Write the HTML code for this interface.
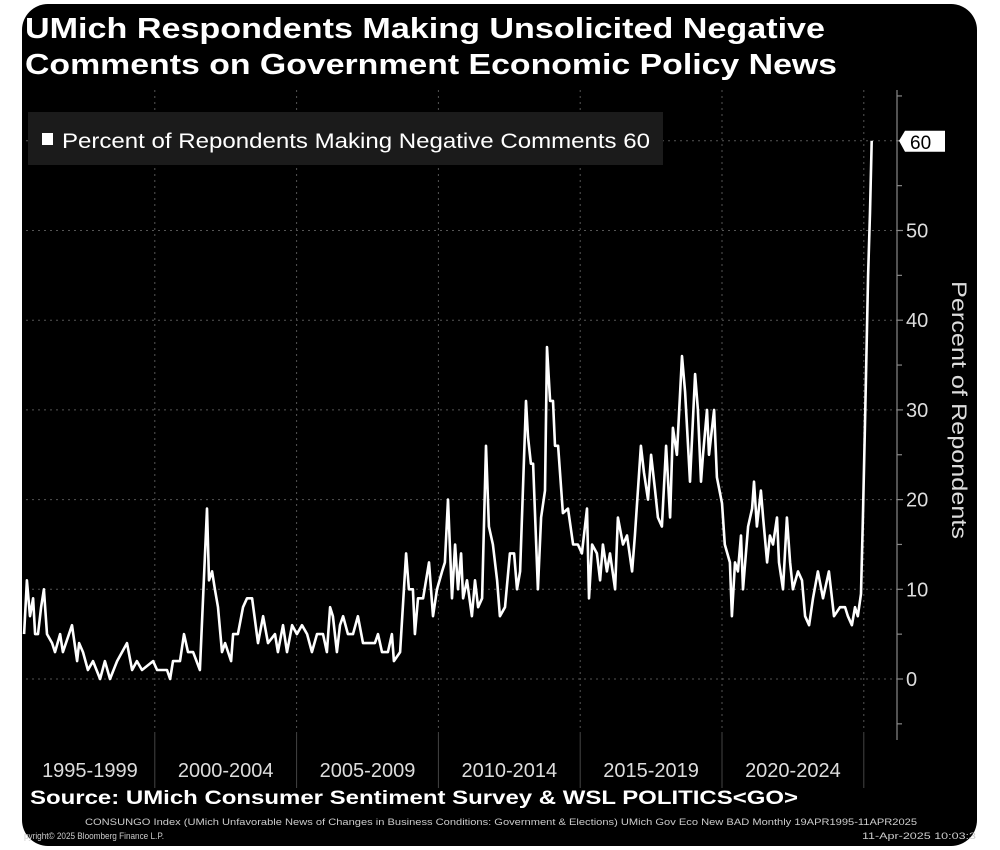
<!DOCTYPE html>
<html><head><meta charset="utf-8"><style>
html,body{margin:0;padding:0;background:#fff;width:1000px;height:850px;overflow:hidden}
svg{display:block}
text{font-family:"Liberation Sans",sans-serif}
</style></head><body>
<svg id="chart" width="1000" height="850" viewBox="0 0 1000 850">
<rect x="22" y="4" width="955" height="842" rx="26" fill="#000"/>
<text x="25" y="38" fill="#fff" font-size="29" font-weight="bold" textLength="800" lengthAdjust="spacingAndGlyphs">UMich Respondents Making Unsolicited Negative</text>
<text x="25" y="74" fill="#fff" font-size="29" font-weight="bold" textLength="812" lengthAdjust="spacingAndGlyphs">Comments on Government Economic Policy News</text>
<g id="grid"></g>
<g id="xband"></g>
<g id="yaxis"></g>
<path id="series" fill="none" stroke="#fff" stroke-width="2.6" stroke-linejoin="round"/>
<rect x="28" y="112" width="635" height="53" fill="#1b1b1b"/>
<rect x="42" y="133" width="11" height="12" fill="#fff"/>
<text x="62" y="148" fill="#fff" font-size="21" textLength="588" lengthAdjust="spacingAndGlyphs">Percent of Repondents Making Negative Comments 60</text>
<g id="lastlabel"></g>
<text transform="translate(952,410) rotate(90)" text-anchor="middle" fill="#ddd" font-size="21" textLength="258" lengthAdjust="spacingAndGlyphs">Percent of Repondents</text>
<text x="30" y="804" fill="#fff" font-size="19" font-weight="bold" textLength="768" lengthAdjust="spacingAndGlyphs">Source: UMich Consumer Sentiment Survey &amp; WSL POLITICS&lt;GO&gt;</text>
<text x="85" y="825" fill="#ccc" font-size="9.5" textLength="832" lengthAdjust="spacingAndGlyphs">CONSUNGO Index (UMich Unfavorable News of Changes in Business Conditions: Government &amp; Elections) UMich Gov Eco New BAD  Monthly 19APR1995-11APR2025</text>
<text x="24" y="839" fill="#ccc" font-size="9.5" textLength="140" lengthAdjust="spacingAndGlyphs">pyright© 2025 Bloomberg Finance L.P.</text>
<text x="862" y="839" fill="#ccc" font-size="9.5" textLength="114" lengthAdjust="spacingAndGlyphs">11-Apr-2025 10:03:3</text>
</svg>
<script>
const years=[1995.39,1995.49,1995.60,1995.71,1995.78,1995.88,1995.99,1996.09,1996.20,1996.38,1996.48,1996.66,1996.76,1997.08,1997.26,1997.33,1997.47,1997.64,1997.82,1998.07,1998.24,1998.42,1998.67,1999.02,1999.20,1999.37,1999.55,1999.94,2000.08,2000.43,2000.54,2000.64,2000.89,2001.03,2001.17,2001.35,2001.59,2001.84,2001.91,2002.02,2002.12,2002.23,2002.37,2002.48,2002.69,2002.76,2002.93,2003.11,2003.25,2003.43,2003.64,2003.82,2003.99,2004.24,2004.34,2004.52,2004.66,2004.84,2005.01,2005.19,2005.37,2005.54,2005.72,2005.93,2006.07,2006.18,2006.28,2006.42,2006.53,2006.64,2006.81,2006.99,2007.16,2007.34,2007.76,2007.87,2008.01,2008.22,2008.36,2008.43,2008.65,2008.86,2008.96,2009.10,2009.17,2009.28,2009.46,2009.67,2009.81,2009.95,2010.13,2010.23,2010.34,2010.48,2010.59,2010.69,2010.80,2010.87,2011.01,2011.18,2011.29,2011.40,2011.54,2011.68,2011.78,2011.92,2012.07,2012.17,2012.35,2012.52,2012.67,2012.77,2012.88,2013.09,2013.16,2013.26,2013.34,2013.51,2013.62,2013.76,2013.83,2013.94,2014.04,2014.11,2014.22,2014.39,2014.57,2014.75,2014.92,2015.06,2015.24,2015.31,2015.42,2015.59,2015.70,2015.80,2015.94,2016.05,2016.23,2016.33,2016.51,2016.65,2016.83,2016.93,2017.14,2017.25,2017.39,2017.50,2017.64,2017.74,2017.88,2018.03,2018.17,2018.27,2018.41,2018.59,2018.70,2018.87,2019.05,2019.15,2019.26,2019.33,2019.47,2019.54,2019.72,2019.82,2020.00,2020.10,2020.28,2020.35,2020.46,2020.56,2020.67,2020.74,2020.92,2021.06,2021.13,2021.23,2021.37,2021.45,2021.59,2021.69,2021.80,2021.94,2022.01,2022.15,2022.29,2022.40,2022.50,2022.68,2022.82,2022.93,2023.07,2023.21,2023.38,2023.56,2023.77,2023.95,2024.16,2024.34,2024.44,2024.58,2024.69,2024.79,2024.90,2024.97,2025.04,2025.15,2025.22,2025.28];
const values=[5,11,7,9,5,5,8,10,5,4,3,5,3,6,2,4,3,1,2,0,2,0,2,4,1,2,1,2,1,1,0,2,2,5,3,3,1,19,11,12,10,8,3,4,2,5,5,8,9,9,4,7,4,5,3,6,3,6,5,6,5,3,5,5,3,8,7,3,6,7,5,5,7,4,4,5,3,3,5,2,3,14,10,10,5,9,9,13,7,10,12,13,20,9,15,10,14,9,11,7,11,8,9,26,17,15,11,7,8,14,14,10,12,31,27,24,24,10,18,21,37,31,31,26,26,18.5,19,15,15,14,19,9,15,14,11,15,12,14,10,18,15,16,12,16,26,23,20,25,21,18,17,26,18,28,25,36,32,22,34,30,22,25,30,25,30,22.5,19.6,15,13,7,13,12,16,10,17,19,22,17,21,18,13,16,15,18,13,10,18,13,10,12,11,7,6,9,12,9,12,7,8,8,7,6,8,7,9.5,18,28,45,52,60];
const yTicks=[0,10,20,30,40,50];
const bandLabels=["1995-1999","2000-2004","2005-2009","2010-2014","2015-2019","2020-2024"];
const bandStarts=[1995,2000,2005,2010,2015,2020,2025];
const lastValue=60;

const X0=13, PX_PER_YR=28.36, Y0=679, PX_PER_UNIT=8.97;
const xs=t=>X0+(t-1995)*PX_PER_YR;
const ys=v=>Y0-v*PX_PER_UNIT;
const NS="http://www.w3.org/2000/svg";
function mk(tag,attrs,parent){const e=document.createElementNS(NS,tag);for(const k in attrs)e.setAttribute(k,attrs[k]);parent.appendChild(e);return e;}
const grid=document.getElementById('grid'),band=document.getElementById('xband'),yax=document.getElementById('yaxis');
const L=26,R=897,TOP=90,BOT=732;
yTicks.concat([lastValue]).forEach(v=>{
  const g=mk('line',{x1:L,x2:R,y1:ys(v),y2:ys(v),stroke:'#555','stroke-width':1,'stroke-dasharray':'2,4'},grid);
  
  
});
bandStarts.slice(1).forEach(b=>{
  const g=mk('line',{x1:xs(b),x2:xs(b),y1:TOP,y2:BOT,stroke:'#555','stroke-width':1,'stroke-dasharray':'2,4'},grid);
  
  
  const s=mk('line',{x1:xs(b),x2:xs(b),y1:BOT,y2:788,stroke:'#444','stroke-width':1},band);
  
  
});
bandLabels.forEach((lab,i)=>{
  const t=mk('text',{x:(xs(bandStarts[i])+xs(bandStarts[i+1]))/2+(i==0?6:0),y:777,'text-anchor':'middle',fill:'#ddd','font-size':20},band);
  t.textContent=lab;
  
  
});
const ax=mk('line',{x1:R,x2:R,y1:TOP,y2:740,stroke:'#888','stroke-width':1.2},yax);


for(let v=-5;v<=65;v+=5){
  const tk=mk('line',{x1:R,x2:R+(v%10==0?6:5),y1:ys(v),y2:ys(v),stroke:'#888','stroke-width':1.2},yax);
  
  
}
yTicks.forEach(v=>{
  const t=mk('text',{x:906,y:ys(v)+7,fill:'#ddd','font-size':20},yax);
  t.textContent=String(v);
  
  
});
let d='';years.forEach((t,i)=>{d+=(i?'L':'M')+xs(t).toFixed(1)+' '+ys(values[i]).toFixed(1);});
document.getElementById('series').setAttribute('d',d);
const ll=document.getElementById('lastlabel');const yl=ys(lastValue);
const poly=mk('polygon',{points:`899,${yl} 905,${yl-10} 945,${yl-10} 945,${yl+11} 905,${yl+11}`,fill:'#fff'},ll);


const lt=mk('text',{x:910,y:yl+8,fill:'#000','font-size':19},ll);
lt.textContent=String(lastValue);


</script>
</body></html>
